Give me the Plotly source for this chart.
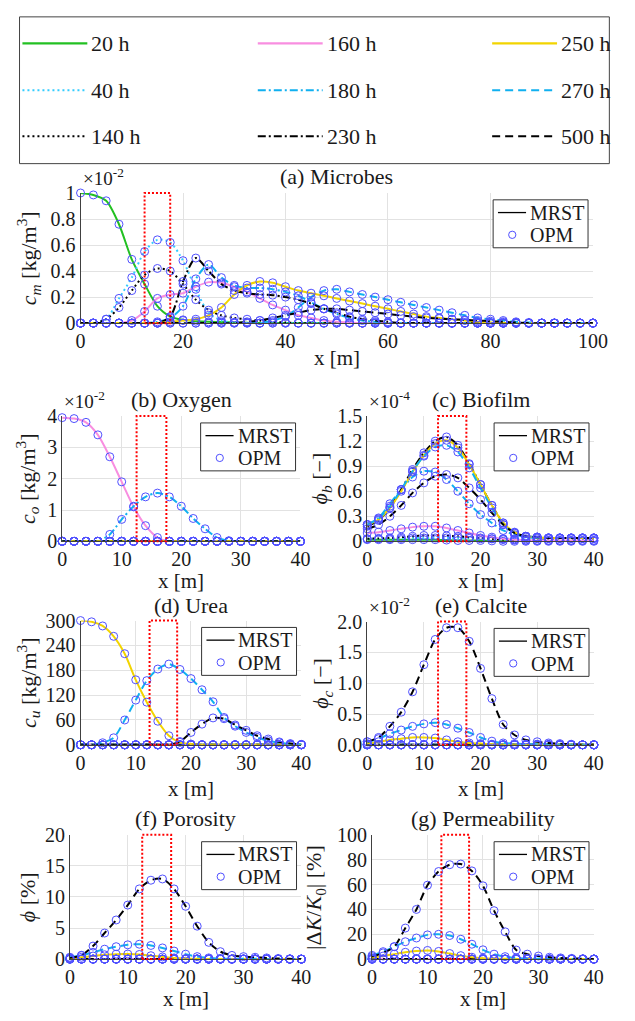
import plotly.graph_objects as go

W, H = 635, 1021
FONT = "Liberation Serif"
TXT = "#1a1a1a"

# ---------------- series definitions ----------------
TIMES = ["20 h", "40 h", "140 h", "160 h", "180 h", "230 h", "250 h", "270 h", "500 h"]
COLORS = ["#22c022", "#33ccff", "#000000", "#f88ee0", "#10b0f0",
          "#000000", "#f2d400", "#10b0f0", "#000000"]
DASHES = ["solid", "2px,3px", "2px,3px", "solid", "8px,3px,2px,3px",
          "8px,3px,2px,3px", "solid", "8px,5px", "8px,5px"]
MARKER_COLOR = "rgb(80,80,255)"

# ---------------- (a) Microbes, c_m [x1e-2 kg/m3] ----------------
X_A = [0, 2.5, 5, 7.5, 10, 12.5, 15, 17.5, 20, 22.5,
       25, 27.5, 30, 32.5, 35, 37.5, 40, 42.5, 45, 47.5,
       50, 52.5, 55, 57.5, 60, 62.5, 65, 67.5, 70, 72.5,
       75, 77.5, 80, 82.5, 85, 87.5, 90, 92.5, 95, 97.5,
       100]
M_20 = [1.0, 0.985, 0.94, 0.76, 0.49, 0.30, 0.13, 0.05, 0.025, 0.015,
        0.01, 0.008, 0.005, 0.003, 0, 0, 0, 0, 0, 0,
        0, 0, 0, 0, 0, 0, 0, 0, 0, 0,
        0, 0, 0, 0, 0, 0, 0, 0, 0, 0,
        0]
M_40 = [0, 0, 0.03, 0.19, 0.35, 0.55, 0.64, 0.62, 0.48, 0.26,
        0.08, 0.02, 0.005, 0, 0, 0, 0, 0, 0, 0,
        0, 0, 0, 0, 0, 0, 0, 0, 0, 0,
        0, 0, 0, 0, 0, 0, 0, 0, 0, 0,
        0]
M_140 = [0, 0, 0.03, 0.12, 0.25, 0.37, 0.42, 0.40, 0.30, 0.18,
         0.10, 0.06, 0.04, 0.03, 0.02, 0.01, 0.005, 0, 0, 0,
         0, 0, 0, 0, 0, 0, 0, 0, 0, 0,
         0, 0, 0, 0, 0, 0, 0, 0, 0, 0,
         0]
M_160 = [0, 0, 0, 0, 0.02, 0.09, 0.19, 0.22, 0.23, 0.28,
         0.315, 0.31, 0.28, 0.24, 0.19, 0.14, 0.10, 0.06, 0.04, 0.02,
         0.01, 0.005, 0, 0, 0, 0, 0, 0, 0, 0,
         0, 0, 0, 0, 0, 0, 0, 0, 0, 0,
         0]
M_180 = [0, 0, 0, 0, 0, 0, 0.01, 0.04, 0.13, 0.34,
         0.45, 0.35, 0.29, 0.27, 0.27, 0.26, 0.24, 0.21, 0.16, 0.11,
         0.07, 0.04, 0.02, 0.01, 0, 0, 0, 0, 0, 0,
         0, 0, 0, 0, 0, 0, 0, 0, 0, 0,
         0]
M_230 = [0, 0, 0, 0, 0, 0, 0, 0.05, 0.32, 0.50,
         0.40, 0.30, 0.25, 0.23, 0.22, 0.215, 0.20, 0.18, 0.15, 0.11,
         0.08, 0.05, 0.03, 0.02, 0.01, 0, 0, 0, 0, 0,
         0, 0, 0, 0, 0, 0, 0, 0, 0, 0,
         0]
M_250 = [0, 0, 0, 0, 0, 0, 0, 0.01, 0.02, 0.03,
         0.06, 0.12, 0.22, 0.29, 0.32, 0.31, 0.28, 0.25, 0.23, 0.21,
         0.19, 0.17, 0.15, 0.13, 0.11, 0.09, 0.07, 0.05, 0.04, 0.03,
         0.02, 0.01, 0.005, 0, 0, 0, 0, 0, 0, 0,
         0]
M_270 = [0, 0, 0, 0, 0, 0, 0, 0, 0, 0,
         0, 0, 0, 0, 0, 0.02, 0.05, 0.12, 0.20, 0.25,
         0.26, 0.24, 0.22, 0.20, 0.18, 0.16, 0.14, 0.12, 0.10, 0.08,
         0.06, 0.04, 0.03, 0.02, 0.01, 0.005, 0, 0, 0, 0,
         0]
M_500 = [0, 0, 0, 0, 0, 0, 0, 0, 0, 0,
         0, 0, 0, 0.01, 0.02, 0.04, 0.06, 0.08, 0.10, 0.11,
         0.11, 0.10, 0.09, 0.08, 0.07, 0.06, 0.05, 0.04, 0.035, 0.03,
         0.025, 0.02, 0.015, 0.01, 0.005, 0, 0, 0, 0, 0,
         0]

# ---------------- 40 m panels ----------------
X_B = [0, 2, 4, 6, 8, 10, 12, 14, 16, 18, 20, 22, 24, 26, 28, 30, 32, 34, 36, 38, 40]
Z40 = [0, 0, 0, 0, 0, 0, 0, 0, 0, 0, 0, 0, 0, 0, 0, 0, 0, 0, 0, 0, 0]

# (b) Oxygen, c_o [x1e-2 kg/m3]
O_160 = [3.95, 3.92, 3.80, 3.40, 2.70, 1.90, 1.10, 0.50, 0.12, 0, 0, 0, 0, 0, 0, 0, 0, 0, 0, 0, 0]
O_180 = [0, 0, 0, 0, 0.22, 0.70, 1.12, 1.42, 1.54, 1.42, 1.12, 0.73, 0.40, 0.12, 0.02, 0, 0, 0, 0, 0, 0]

# (c) Biofilm, phi_b [x1e-4]
B_20 = [0.02, 0.02, 0.02, 0.02, 0.02, 0.02, 0.02, 0.015, 0.01, 0.01, 0.01, 0.005, 0, 0, 0, 0, 0, 0, 0, 0, 0]
B_40 = [0.03, 0.03, 0.03, 0.035, 0.04, 0.04, 0.04, 0.04, 0.04, 0.035, 0.03, 0.03, 0.03, 0.03, 0.03, 0.03, 0.03, 0.03, 0.03, 0.03, 0.03]
B_140 = [0.03, 0.035, 0.04, 0.05, 0.06, 0.07, 0.07, 0.065, 0.06, 0.05, 0.04, 0.03, 0.02, 0.015, 0.01, 0.01, 0.01, 0.01, 0.01, 0.01, 0.01]
B_160 = [0.10, 0.11, 0.13, 0.15, 0.17, 0.18, 0.18, 0.16, 0.13, 0.10, 0.07, 0.05, 0.03, 0.02, 0.015, 0.01, 0.01, 0.01, 0.01, 0.01, 0.01]
B_180 = [0.20, 0.28, 0.45, 0.62, 0.77, 0.84, 0.83, 0.74, 0.60, 0.45, 0.32, 0.22, 0.13, 0.08, 0.05, 0.04, 0.04, 0.04, 0.04, 0.04, 0.04]
B_230 = [0.18, 0.25, 0.40, 0.62, 0.86, 1.06, 1.20, 1.25, 1.15, 0.93, 0.68, 0.43, 0.22, 0.10, 0.06, 0.05, 0.04, 0.04, 0.04, 0.04, 0.04]
B_250 = [0.20, 0.26, 0.40, 0.60, 0.83, 1.03, 1.17, 1.21, 1.12, 0.92, 0.68, 0.43, 0.22, 0.11, 0.06, 0.05, 0.04, 0.04, 0.04, 0.04, 0.04]
B_270 = [0.20, 0.27, 0.42, 0.62, 0.84, 1.02, 1.13, 1.15, 1.07, 0.88, 0.64, 0.40, 0.20, 0.10, 0.06, 0.05, 0.04, 0.04, 0.04, 0.04, 0.04]
B_500 = [0.15, 0.20, 0.30, 0.43, 0.58, 0.70, 0.78, 0.80, 0.76, 0.64, 0.50, 0.34, 0.20, 0.10, 0.06, 0.05, 0.04, 0.04, 0.04, 0.04, 0.04]

# (d) Urea, c_u [kg/m3]
U_250 = [300, 297, 287, 262, 220, 157, 103, 57, 22, 6, 2, 0, 0, 0, 0, 0, 0, 0, 0, 0, 0]
U_270 = [0, 0, 5, 17, 60, 108, 155, 183, 195, 182, 160, 133, 104, 66, 45, 30, 18, 10, 5, 2, 1]
U_500 = [0, 0, 0, 0, 0, 0, 0, 0, 0, 8, 30, 50, 65, 63, 48, 35, 22, 14, 7, 3, 1]

# (e) Calcite, phi_c [x1e-2]
C_250 = [0.02, 0.05, 0.08, 0.10, 0.12, 0.12, 0.11, 0.08, 0.05, 0.03, 0.02, 0.01, 0, 0, 0, 0, 0, 0, 0, 0, 0]
C_270 = [0.05, 0.10, 0.18, 0.24, 0.30, 0.34, 0.36, 0.33, 0.27, 0.20, 0.12, 0.06, 0.03, 0.02, 0.01, 0.01, 0.01, 0, 0, 0, 0]
C_500 = [0.05, 0.12, 0.30, 0.53, 0.86, 1.30, 1.71, 1.90, 1.90, 1.68, 1.24, 0.75, 0.33, 0.16, 0.08, 0.05, 0.03, 0.02, 0.01, 0, 0]

# (f) Porosity [%]
P_250 = [0.1, 0.3, 0.5, 0.7, 0.8, 0.82, 0.75, 0.55, 0.35, 0.2, 0.1, 0.05, 0, 0, 0, 0, 0, 0, 0, 0, 0]
P_270 = [0.3, 0.6, 1.1, 1.6, 2.0, 2.3, 2.4, 2.2, 1.8, 1.3, 0.8, 0.4, 0.2, 0.1, 0.05, 0.05, 0.05, 0, 0, 0, 0]
P_500 = [0.2, 0.6, 2.1, 4.2, 6.3, 8.7, 11.3, 12.7, 12.9, 11.3, 8.5, 5.3, 2.7, 1.2, 0.6, 0.4, 0.3, 0.2, 0.1, 0.05, 0]

# (g) Permeability |dK/K0| [%]
K_250 = [1, 2.5, 4, 5.5, 6.5, 7, 6.2, 4.5, 2.8, 1.5, 0.8, 0.4, 0.2, 0.1, 0, 0, 0, 0, 0, 0, 0]
K_270 = [3, 6, 10, 14, 17, 19.5, 20, 19, 16, 12, 7.5, 4, 2, 1, 0.5, 0.3, 0.3, 0.2, 0.1, 0, 0]
K_500 = [2, 5, 10, 25, 40, 59.5, 70.5, 76, 76.5, 71, 59, 39, 22, 7.3, 4, 2.5, 1.5, 1, 0.6, 0.3, 0]

# ---------------- panel layout (pixel boxes: left, right, top, bottom) ----------------
panels = [
    dict(box=(78, 607, 186, 319), x=X_A, xr=[0, 100], xt=[0, 20, 40, 60, 80, 100],
         yr=[0, 1], yt=[0, 0.2, 0.4, 0.6, 0.8, 1], ytt=["0", "0.2", "0.4", "0.6", "0.8", "1"],
         series=[M_20, M_40, M_140, M_160, M_180, M_230, M_250, M_270, M_500],
         title="(a) Microbes", ytitle="<i>c<sub>m</sub></i> [kg/m<sup>3</sup>]", ytx=24,
         exp="×10<sup>-2</sup>", xlab_y=355, title_y=169),
    dict(box=(59, 305, 414, 542), x=X_B, xr=[0, 40], xt=[0, 10, 20, 30, 40],
         yr=[0, 4], yt=[0, 1, 2, 3, 4], ytt=["0", "1", "2", "3", "4"],
         series=[Z40, Z40, Z40, O_160, O_180, Z40, Z40, Z40, Z40],
         title="(b) Oxygen", ytitle="<i>c<sub>o</sub></i> [kg/m<sup>3</sup>]", ytx=23,
         exp="×10<sup>-2</sup>", xlab_y=583, title_y=397),
    dict(box=(374, 608, 414, 542), x=X_B, xr=[0, 40], xt=[0, 10, 20, 30, 40],
         yr=[0, 1.5], yt=[0, 0.3, 0.6, 0.9, 1.2, 1.5], ytt=["0", "0.3", "0.6", "0.9", "1.2", "1.5"],
         series=[B_20, B_40, B_140, B_160, B_180, B_230, B_250, B_270, B_500],
         title="(c) Biofilm", ytitle="<i>ϕ<sub>b</sub></i> [−]", ytx=326,
         exp="×10<sup>-4</sup>", xlab_y=583, title_y=397),
    dict(box=(78, 306, 623, 750), x=X_B, xr=[0, 40], xt=[0, 10, 20, 30, 40],
         yr=[0, 300], yt=[0, 60, 120, 180, 240, 300], ytt=["0", "60", "120", "180", "240", "300"],
         series=[Z40, Z40, Z40, Z40, Z40, Z40, U_250, U_270, U_500],
         title="(d) Urea", ytitle="<i>c<sub>u</sub></i> [kg/m<sup>3</sup>]", ytx=24,
         exp=None, xlab_y=795, title_y=608),
    dict(box=(374, 608, 624, 750), x=X_B, xr=[0, 40], xt=[0, 10, 20, 30, 40],
         yr=[0, 2], yt=[0, 0.5, 1, 1.5, 2], ytt=["0.0", "0.5", "1.0", "1.5", "2.0"],
         series=[Z40, Z40, Z40, Z40, Z40, Z40, C_250, C_270, C_500],
         title="(e) Calcite", ytitle="<i>ϕ<sub>c</sub></i> [−]", ytx=328,
         exp="×10<sup>-2</sup>", xlab_y=795, title_y=608),
    dict(box=(67, 306, 842, 969), x=X_B, xr=[0, 40], xt=[0, 10, 20, 30, 40],
         yr=[0, 20], yt=[0, 5, 10, 15, 20], ytt=["0", "5", "10", "15", "20"],
         series=[Z40, Z40, Z40, Z40, Z40, Z40, P_250, P_270, P_500],
         title="(f) Porosity", ytitle="<i>ϕ</i> [%]", ytx=24,
         exp=None, xlab_y=1010, title_y=825),
    dict(box=(379, 608, 842, 969), x=X_B, xr=[0, 40], xt=[0, 10, 20, 30, 40],
         yr=[0, 100], yt=[0, 20, 40, 60, 80, 100], ytt=["0", "20", "40", "60", "80", "100"],
         series=[Z40, Z40, Z40, Z40, Z40, Z40, K_250, K_270, K_500],
         title="(g) Permeability", ytitle="|Δ<i>K</i>/<i>K</i><sub>0</sub>| [%]", ytx=320,
         exp=None, xlab_y=1010, title_y=825),
]

fig = go.Figure()
annotations = []
shapes = []


def fx(px):
    return px / W


def fy(py):
    return 1 - py / H


def ann(text, x, y, size, xanchor="center", yanchor="middle", angle=0):
    annotations.append(dict(text=text, x=fx(x), y=fy(y), xref="paper", yref="paper",
                            showarrow=False, textangle=angle,
                            font=dict(family=FONT, size=size, color=TXT),
                            xanchor=xanchor, yanchor=yanchor))


layout_axes = {}
for k, p in enumerate(panels, start=1):
    xa = "x" if k == 1 else f"x{k}"
    ya = "y" if k == 1 else f"y{k}"
    l, r, t, b = p["box"]
    # MRST lines
    for i, ys in enumerate(p["series"]):
        fig.add_trace(go.Scatter(
            x=p["x"], y=ys, mode="lines", xaxis=xa, yaxis=ya, showlegend=False,
            name=f"MRST {TIMES[i]}", hoverinfo="skip",
            line=dict(color=COLORS[i], width=2, dash=DASHES[i], shape="spline", smoothing=0.8)))
    # OPM markers
    for i, ys in enumerate(p["series"]):
        fig.add_trace(go.Scatter(
            x=p["x"], y=ys, mode="markers", xaxis=xa, yaxis=ya, showlegend=False,
            name=f"OPM {TIMES[i]}", hoverinfo="skip", cliponaxis=False,
            marker=dict(symbol="circle-open", size=8, color=MARKER_COLOR,
                        line=dict(width=1, color=MARKER_COLOR))))
    xkey = "xaxis" if k == 1 else f"xaxis{k}"
    ykey = "yaxis" if k == 1 else f"yaxis{k}"
    layout_axes[xkey] = dict(
        domain=[fx(l), fx(r)], range=p["xr"], tickvals=p["xt"],
        ticktext=[str(v) for v in p["xt"]], anchor=ya,
        showgrid=True, gridcolor="#e2e2e2", gridwidth=1, zeroline=False,
        showline=True, linecolor="#404040", linewidth=1, ticks="",
        tickfont=dict(family=FONT, size=20, color=TXT), fixedrange=True)
    layout_axes[ykey] = dict(
        domain=[fy(b), fy(t)], range=p["yr"], tickvals=p["yt"], ticktext=p["ytt"],
        anchor=xa, showgrid=True, gridcolor="#e2e2e2", gridwidth=1, zeroline=False,
        showline=True, linecolor="#404040", linewidth=1, ticks="",
        tickfont=dict(family=FONT, size=20, color=TXT), fixedrange=True)

    # red dotted rectangle
    shapes.append(dict(type="rect", xref=xa, yref=f"{ya} domain", x0=12.5, x1=17.5, y0=0, y1=1,
                       line=dict(color="#ff0000", width=2, dash="2px,2px"), layer="above"))

    # titles and labels
    cx = (l + r) / 2
    ann(p["title"], cx, p["title_y"], 22)
    ann("x [m]", cx, p["xlab_y"], 21)
    ann(p["ytitle"], p["ytx"], (t + b) / 2, 22, angle=-90)
    if p["exp"]:
        ann(p["exp"], l, t - 16, 19, xanchor="left")

    # MRST / OPM legend box
    bw, bh = 98, 49
    bl = r - 5 - bw
    bt = t + 7
    shapes.append(dict(type="rect", xref="paper", yref="paper",
                       x0=fx(bl), x1=fx(bl + bw), y0=fy(bt + bh), y1=fy(bt),
                       line=dict(color="#333333", width=1), fillcolor="white", layer="above"))
    shapes.append(dict(type="line", xref="paper", yref="paper",
                       x0=fx(bl + 5), x1=fx(bl + 34), y0=fy(bt + 13), y1=fy(bt + 13),
                       line=dict(color="#000000", width=1.3), layer="above"))
    shapes.append(dict(type="circle", xref="paper", yref="paper",
                       x0=fx(bl + 16), x1=fx(bl + 23.5), y0=fy(bt + 39.5), y1=fy(bt + 32),
                       line=dict(color=MARKER_COLOR, width=1), layer="above"))
    ann("MRST", bl + 36, bt + 13, 20, xanchor="left")
    ann("OPM", bl + 36, bt + 36, 20, xanchor="left")

# ---------------- top legend (time levels) ----------------
shapes.append(dict(type="rect", xref="paper", yref="paper",
                   x0=fx(15), x1=fx(624), y0=fy(156), y1=fy(6),
                   line=dict(color="#444444", width=1), fillcolor="white", layer="above"))
col_x = [18, 261, 503]
row_y = [33, 81, 128]
for i, lab in enumerate(TIMES):
    c, rr = divmod(i, 3)
    x0 = col_x[c]
    y0 = row_y[rr]
    shapes.append(dict(type="line", xref="paper", yref="paper",
                       x0=fx(x0), x1=fx(x0 + 67), y0=fy(y0), y1=fy(y0),
                       line=dict(color=COLORS[i], width=2.2, dash=DASHES[i]), layer="above"))
    ann(lab, x0 + 69, y0, 22, xanchor="left")

fig.update_layout(
    width=W, height=H, margin=dict(l=0, r=0, t=0, b=0),
    paper_bgcolor="white", plot_bgcolor="white",
    showlegend=False, annotations=annotations, shapes=shapes,
    font=dict(family=FONT, color=TXT),
    **layout_axes)

fig.write_html("out.html")
